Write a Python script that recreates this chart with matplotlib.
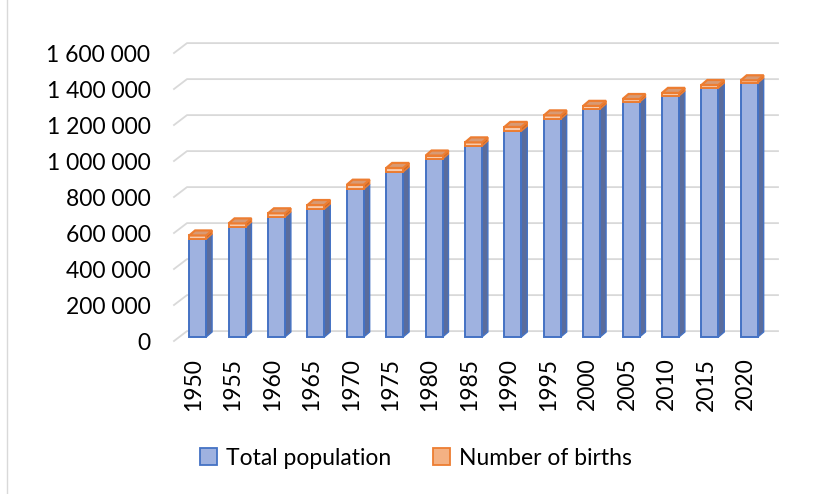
import matplotlib
matplotlib.use("Agg")
import matplotlib.pyplot as plt
from matplotlib.patches import Polygon, Patch
from matplotlib import transforms

years = ["1950", "1955", "1960", "1965", "1970", "1975", "1980", "1985",
         "1990", "1995", "2000", "2005", "2010", "2015", "2020"]
total_population = [544000, 611000, 667000, 711000, 822000, 917000, 989000, 1061000,
                    1144000, 1211000, 1267000, 1305000, 1339000, 1383000, 1411000]
births = [20000, 20000, 20000, 22000, 24000, 22000, 19000, 20000,
          23000, 20000, 17000, 17000, 17000, 17000, 15000]
y_ticks = [0, 200000, 400000, 600000, 800000, 1000000, 1200000, 1400000, 1600000]

plt.rcParams['font.family'] = ['Lato', 'DejaVu Sans']

blue_face = "#9fb2e0"
blue_edge = "#4472c4"
blue_side = "#5a6c9c"
orange_face = "#f8cbad"
orange_edge = "#ed7d31"
orange_side = "#c8682a"
orange_top = "#d89a74"
grid_col = "#d9d9d9"

fig = plt.figure(figsize=(8.15, 4.94), dpi=100)
ax = fig.add_axes([174 / 815, (494 - 341) / 494, 591 / 815, 288 / 494])
ax.set_xlim(-0.5, 14.5)
ax.set_ylim(0, 1600000)
for s in ax.spines.values():
    s.set_visible(False)

# back wall gridlines (pseudo 3d)
wall_dx, wall_dy = 0.33, 55000
for v in y_ticks:
    ax.plot([-0.5, -0.5 + wall_dx, 14.5 + wall_dx], [v, v + wall_dy, v + wall_dy],
            color=grid_col, lw=1.3, clip_on=False, zorder=1)

# bars sit a little behind the front plane
shift = transforms.offset_copy(ax.transData, fig=fig, x=4, y=4, units='dots')
w, dx, dy = 0.43, 0.15, 28000
xs = range(len(years))

front = ax.bar(xs, total_population, width=w, color=blue_face, edgecolor=blue_edge,
               linewidth=1.4, zorder=3)
caps = ax.bar(xs, births, bottom=total_population, width=w, color=orange_face,
              edgecolor=orange_edge, linewidth=1.4, zorder=3)
for p in list(front) + list(caps):
    p.set_transform(shift)
    p.set_clip_on(False)

for i, (pop, b) in enumerate(zip(total_population, births)):
    x0, x1 = i - w / 2, i + w / 2
    top = pop + b
    side = Polygon([(x1, 0), (x1 + dx, dy), (x1 + dx, pop + dy), (x1, pop)],
                   closed=True, facecolor=blue_side, edgecolor=blue_edge, lw=1.0,
                   transform=shift, zorder=2, clip_on=False)
    oside = Polygon([(x1, pop), (x1 + dx, pop + dy), (x1 + dx, top + dy), (x1, top)],
                    closed=True, facecolor=orange_side, edgecolor=orange_edge, lw=1.0,
                    transform=shift, zorder=2, clip_on=False)
    otop = Polygon([(x0, top), (x1, top), (x1 + dx, top + dy), (x0 + dx, top + dy)],
                   closed=True, facecolor=orange_top, edgecolor=orange_edge, lw=1.6,
                   transform=shift, zorder=4, clip_on=False)
    for poly in (side, oside, otop):
        ax.add_patch(poly)

ax.set_yticks(y_ticks)
ax.set_yticklabels([f"{v:,}".replace(",", " ") for v in y_ticks])
ax.set_xticks(list(xs))
ax.set_xticklabels(years, rotation=90)
ax.tick_params(axis='y', length=0, pad=17, labelsize=16.5, colors="#000000")
ax.tick_params(axis='x', length=0, pad=12, labelsize=16.5, colors="#000000")
ax.grid(False)

handles = [Patch(facecolor=blue_face, edgecolor=blue_edge, linewidth=1.3, label="Total population"),
           Patch(facecolor="#f4b183", edgecolor=orange_edge, linewidth=1.3, label="Number of births")]
fig.legend(handles=handles, loc='center', bbox_to_anchor=(416 / 815, 1 - 458 / 494),
           ncol=2, frameon=False, fontsize=16.5, handlelength=0.75, handleheight=0.75,
           handletextpad=0.4, columnspacing=1.8)

# chart area border
fig.add_artist(plt.Line2D([7 / 815, 7 / 815], [0, 1], color=grid_col, lw=1.0))

fig.savefig("out.png", dpi=100)
